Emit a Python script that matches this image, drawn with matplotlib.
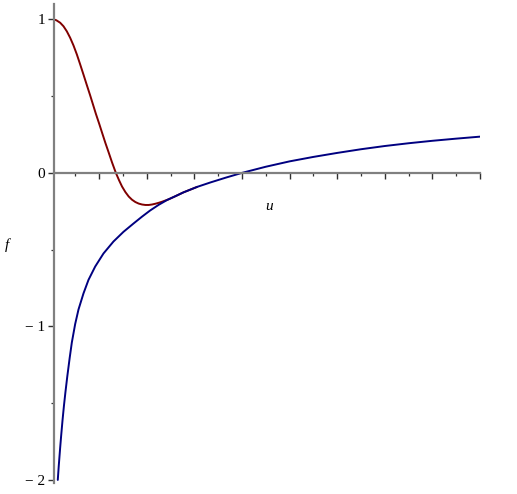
import matplotlib.pyplot as plt
import numpy as np

# values (u, f)
u_red = [0.04, 0.10, 0.18, 0.25, 0.32, 0.39, 0.46, 0.53, 0.60, 0.67, 0.74,
         0.81, 0.87, 0.93, 1.00, 1.06, 1.13, 1.20, 1.27, 1.35, 1.42, 1.48,
         1.55, 1.62, 1.69, 1.76, 1.83, 1.90, 1.97, 2.04, 2.11, 2.18, 2.25,
         2.32, 2.39, 2.46, 2.60, 2.77, 3.06]
f_red = [1.000, 0.994, 0.978, 0.955, 0.922, 0.880, 0.830, 0.772, 0.707, 0.640,
         0.572, 0.505, 0.445, 0.385, 0.320, 0.262, 0.195, 0.132, 0.068, 0.0,
         -0.050, -0.089, -0.125, -0.154, -0.175, -0.190, -0.200, -0.206,
         -0.209, -0.209, -0.206, -0.201, -0.195, -0.188, -0.180, -0.172,
         -0.152, -0.127, -0.091]

u_blue = [0.13, 0.15, 0.18, 0.20, 0.23, 0.26, 0.29, 0.33, 0.38, 0.425, 0.495,
          0.565, 0.67, 0.775, 0.916, 1.09, 1.30, 1.51, 1.72, 1.90, 2.07, 2.25,
          2.43, 2.60, 2.77, 3.06, 3.34, 3.67, 4.0, 4.5, 5.0, 5.5, 6.0, 6.5,
          7.0, 7.5, 8.0, 8.5, 9.0]
f_blue = [-2.00, -1.91, -1.79, -1.715, -1.61, -1.515, -1.43, -1.325, -1.205,
          -1.105, -0.985, -0.89, -0.785, -0.697, -0.61, -0.525, -0.447, -0.384,
          -0.330, -0.285, -0.245, -0.208, -0.176, -0.152, -0.127, -0.091,
          -0.062, -0.030, 0.0, 0.040, 0.075, 0.104, 0.13, 0.154, 0.175, 0.193,
          0.209, 0.223, 0.236]

y_ticks = [-2, -1, 0, 1]
y_labels = ['\u2212 2', '\u2212 1', '0', '1']

plt.rcParams['font.family'] = ['Liberation Serif', 'DejaVu Serif']

fig = plt.figure(figsize=(5.17, 4.94), dpi=100)
ax = fig.add_axes([53.5 / 517, 1 - 483 / 494, (480 - 53.5) / 517, 479 / 494])

ax.plot(u_red, f_red, color='#800000', lw=1.4, solid_capstyle='round', solid_joinstyle='round')
ax.plot(u_blue, f_blue, color='#000080', lw=1.4, solid_capstyle='round', solid_joinstyle='round')

ax.set_xlim(0.04, 9)
ax.set_ylim(-2.02, 1.10)

for s in ['top', 'right']:
    ax.spines[s].set_visible(False)
ax.spines['bottom'].set_position(('data', 0))
ax.spines['bottom'].set_color('#808080')
ax.spines['left'].set_color('#808080')
ax.spines['bottom'].set_linewidth(1.6)
ax.spines['left'].set_linewidth(1.6)

ax.set_xticks(np.arange(1, 10))
ax.set_xticks(np.arange(0.5, 9, 1), minor=True)
ax.set_xticklabels([])
ax.set_yticks(y_ticks)
ax.set_yticklabels(y_labels, fontsize=11)
ax.set_yticks([-1.5, -0.5, 0.5], minor=True)

ax.tick_params(which='major', length=4, width=1, color='#303030', direction='out', pad=2)
ax.tick_params(which='minor', length=2.5, width=0.9, color='#303030', direction='out')

ax.text(4.57, -0.22, 'u', style='italic', fontsize=11, ha='center', va='center')
fig.text(5 / 517, 1 - 245 / 494, 'f', style='italic', fontsize=11, ha='left', va='center')

fig.savefig('out.png', dpi=100)
